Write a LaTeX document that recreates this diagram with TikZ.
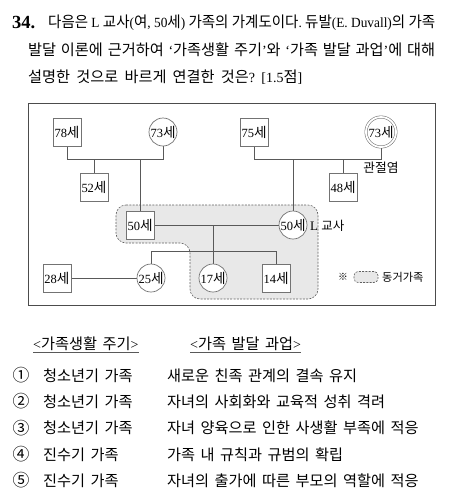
\documentclass[tikz,border=0pt]{standalone}
\usepackage{fontspec}
\setmainfont{Liberation Serif}
\newfontfamily\krfont[Scale=1.087]{Noto Sans CJK KR}
\usetikzlibrary{backgrounds}
\newXeTeXintercharclass\hangulclass
\newcount\myhc
\myhc="AC00
\loop\ifnum\myhc<"D7A4 \XeTeXcharclass\myhc=\hangulclass \advance\myhc by 1 \repeat
\myhc="2460
\loop\ifnum\myhc<"2465 \XeTeXcharclass\myhc=\hangulclass \advance\myhc by 1 \repeat
\XeTeXcharclass"203B=\hangulclass
\XeTeXinterchartokenstate=1
\XeTeXinterchartoks 0 \hangulclass = {\krfont}
\XeTeXinterchartoks 4095 \hangulclass = {\krfont}
\XeTeXinterchartoks \hangulclass 0 = {\rmfamily}
\XeTeXinterchartoks 4095 0 = {\rmfamily}
\frenchspacing
\newcommand\rowspace{\spaceskip=5.5pt plus 1pt minus 0.5pt\relax}
\definecolor{ln}{gray}{0.35}
\definecolor{bx}{gray}{0.45}
\definecolor{rgfill}{gray}{0.91}
\definecolor{rgline}{gray}{0.38}
\tikzset{
  person/.style={fill=white, draw=bx, line width=0.7pt, inner sep=0pt, minimum size=28pt,
    font=\fontsize{12.5}{14}\selectfont},
  male/.style={person, rectangle},
  female/.style={person, circle},
  dblcircle/.style={person, circle, minimum size=30pt, line width=0.55pt, double=white, double distance=1.8pt},
  conn/.style={draw=ln, line width=0.7pt},
  qline/.style={anchor=base west, inner sep=0pt, font=\fontsize{14}{16}\selectfont},
  row/.style={anchor=base west, inner sep=0pt, font=\fontsize{14}{16}\selectfont},
  num/.style={anchor=center, inner sep=0pt, font=\fontsize{15.5}{17}\selectfont},
  region/.style={fill=rgfill, draw=rgline, line width=0.6pt, dash pattern=on 2pt off 1.3pt, rounded corners=10pt},
  uline/.style={draw=ln, line width=1.3pt}
}
\begin{document}
\begin{tikzpicture}[x=1pt,y=-1pt]
\useasboundingbox (0,0) rectangle (450,504);
% question
\node[anchor=base west, inner sep=0pt, font=\bfseries\fontsize{18.5}{20}\selectfont] (qnum) at (12,28) {34.};
\node[qline] (q1) at (48,27) {\resizebox{387pt}{\height}{다음은 L 교사(여, 50세) 가족의 가계도이다. 듀발(E. Duvall)의 가족}};
\node[qline] (q2) at (28,55) {\makebox[407pt][s]{발달 이론에 근거하여 ‘가족생활 주기’와 ‘가족 발달 과업’에 대해}};
\node[qline] (q3) at (28,82) {\makebox[274pt][s]{설명한 것으로 바르게 연결한 것은? [1.5점]}};
% frame
\draw[draw=black!70, line width=1pt] (28,103) rectangle (435,305);
% persons
\node[male] (m78) at (67,132) {78세};
\node[female] (f73a) at (163,132) {73세};
\node[male] (m75) at (254,132) {75세};
\node[dblcircle] (f73b) at (381,132) {73세};
\node[male] (m52) at (94,187) {52세};
\node[male] (m48) at (343,187) {48세};
\node[male] (m50) at (140,225) {50세};
\node[female] (f50) at (293,225) {50세};
\node[male] (m28) at (57,278) {28세};
\node[female] (f25) at (151,278) {25세};
\node[female] (f17) at (213,278) {17세};
\node[male] (m14) at (276,278) {14세};
\coordinate (g1) at (0,159);
\coordinate (s1) at (0,251);
\node[anchor=center, inner sep=0pt, font=\fontsize{11.7}{14}\selectfont] (arth) at (381,168) {관절염};
\node[anchor=west, inner sep=0pt, font=\fontsize{13}{15}\selectfont] (lt) at (310,226) {L {\fontsize{11.5}{14}\selectfont 교사}};
% legend
\node[inner sep=0pt, font=\fontsize{9}{10}\selectfont] (star) at (343,277) {※};
\node[region, rounded corners=4pt, minimum width=24pt, minimum height=11pt, inner sep=0pt] (lgbox) at (366,277) {};
\node[anchor=west, inner sep=0pt, font=\fontsize{10.3}{13}\selectfont] (lgtxt) at (382,277) {동거가족};
\begin{pgfonlayer}{background}
\path[region] (116,205) -- (318,205) -- (318,299) -- (190,299) -- (190,243) -- (116,243) -- cycle;
\draw[conn] (m78.south) |- (f73a.south |- g1) -- (f73a.south);
\draw[conn] (m52.north) -- (m52.north |- g1);
\draw[conn] (m50.north) -- (m50.north |- g1);
\draw[conn] (m75.south) |- (f73b.south |- g1) -- (f73b.south);
\draw[conn] (m48.north) -- (m48.north |- g1);
\draw[conn] (f50.north) -- (f50.north |- g1);
\draw[conn] (m50.east) -- (f50.west);
\draw[conn] (f17.north) -- (f17.north |- m50.east);
\draw[conn] (f25.north) |- (m14.north |- s1) -- (m14.north);
\draw[conn] (m28.east) -- (f25.west);
\end{pgfonlayer}
% answer table
\node[row] (h1) at (33,349) {\rowspace <가족생활 주기>};
\node[row] (h2) at (190,349) {\rowspace <가족 발달 과업>};
\draw[uline] ([yshift=-3.5pt]h1.base west) -- ([yshift=-3.5pt]h1.base east);
\draw[uline] ([yshift=-3.5pt]h2.base west) -- ([yshift=-3.5pt]h2.base east);
\node[num] (n1) at (21,375.5) {①};
\node[row] (a1) at (43,381) {\rowspace 청소년기 가족};
\node[row] (b1) at (167,381) {\rowspace 새로운 친족 관계의 결속 유지};
\node[num] (n2) at (21,401.5) {②};
\node[row] (a2) at (43,407) {\rowspace 청소년기 가족};
\node[row] (b2) at (167,407) {\rowspace 자녀의 사회화와 교육적 성취 격려};
\node[num] (n3) at (21,428) {③};
\node[row] (a3) at (43,433.5) {\rowspace 청소년기 가족};
\node[row] (b3) at (167,433.5) {\rowspace 자녀 양육으로 인한 사생활 부족에 적응};
\node[num] (n4) at (21,454.5) {④};
\node[row] (a4) at (43,460) {\rowspace 진수기 가족};
\node[row] (b4) at (167,460) {\rowspace 가족 내 규칙과 규범의 확립};
\node[num] (n5) at (21,480.5) {⑤};
\node[row] (a5) at (43,486) {\rowspace 진수기 가족};
\node[row] (b5) at (167,486) {\rowspace 자녀의 출가에 따른 부모의 역할에 적응};
\end{tikzpicture}
\end{document}
